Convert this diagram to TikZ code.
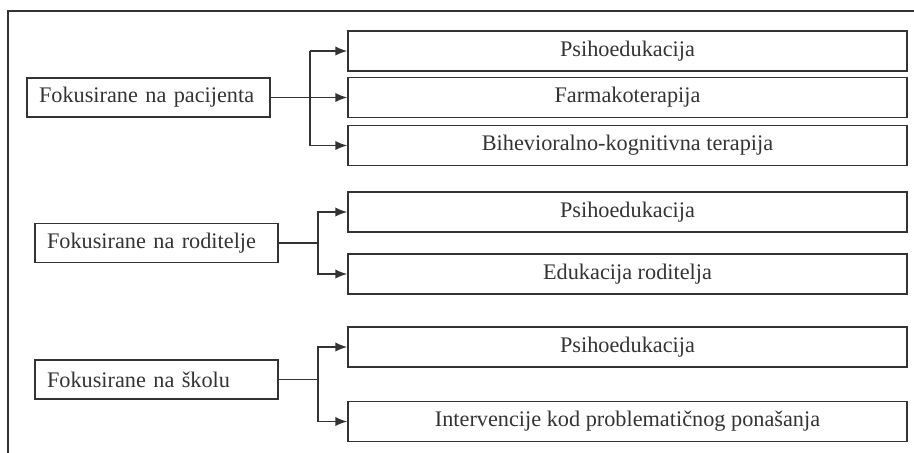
\documentclass[tikz,border=0pt]{standalone}
\usepackage{fontspec}
\setmainfont{Liberation Serif}
\usetikzlibrary{arrows.meta}
\begin{document}
\begin{tikzpicture}[x=0.75pt,y=-0.75pt,color=black!80,line width=1.1pt,font=\fontsize{16.7}{20}\selectfont,
  grupa/.style={draw,text width=164.25pt,align=left,inner xsep=9pt,inner ysep=0pt,minimum height=29.5pt},
  mjera/.style={draw,minimum width=419.25pt,minimum height=30pt,inner sep=0pt},
  strel/.style={-{Latex[length=9pt,width=7pt]}}]
\pgfmathsetmacro{\xd}{627.5}
\useasboundingbox(0,0)rectangle(914,453);
\draw(8,453)--(8,11)--(914,11);
% pacijent
\node[grupa](pac)at(148.5,97.5){Fokusirane na pacijenta};
\node[mjera](pac1)at(\xd,51){Psihoedukacija};
\node[mjera](pac2)at(\xd,97.5){Farmakoterapija};
\node[mjera](pac3)at(\xd,145.5){Bihevioralno-kognitivna terapija};
\coordinate(jp)at(310,97.5);
\draw[strel](pac.east)--(pac2.west);
\draw[strel](jp|-pac1.west)--(pac1.west);
\draw(jp|-pac1.west)--(jp|-pac3.west);
\draw[strel](jp|-pac3.west)--(pac3.west);
% roditelji
\node[grupa](rod)at(156.5,243){Fokusirane na roditelje};
\node[mjera](rod1)at(\xd,212){Psihoedukacija};
\node[mjera](rod2)at(\xd,274){Edukacija roditelja};
\coordinate(jr)at(318,243);
\draw(rod.east)--(jr);
\draw[strel](jr)|-(rod1.west);
\draw[strel](jr)|-(rod2.west);
% skola
\node[grupa](sk)at(156.5,379.5){Fokusirane na školu};
\node[mjera](sk1)at(\xd,347){Psihoedukacija};
\node[mjera](sk2)at(\xd,421.5){Intervencije kod problematičnog ponašanja};
\coordinate(js)at(318,379.5);
\draw(sk.east)--(js);
\draw[strel](js)|-(sk1.west);
\draw[strel](js)|-(sk2.west);
\end{tikzpicture}
\end{document}
